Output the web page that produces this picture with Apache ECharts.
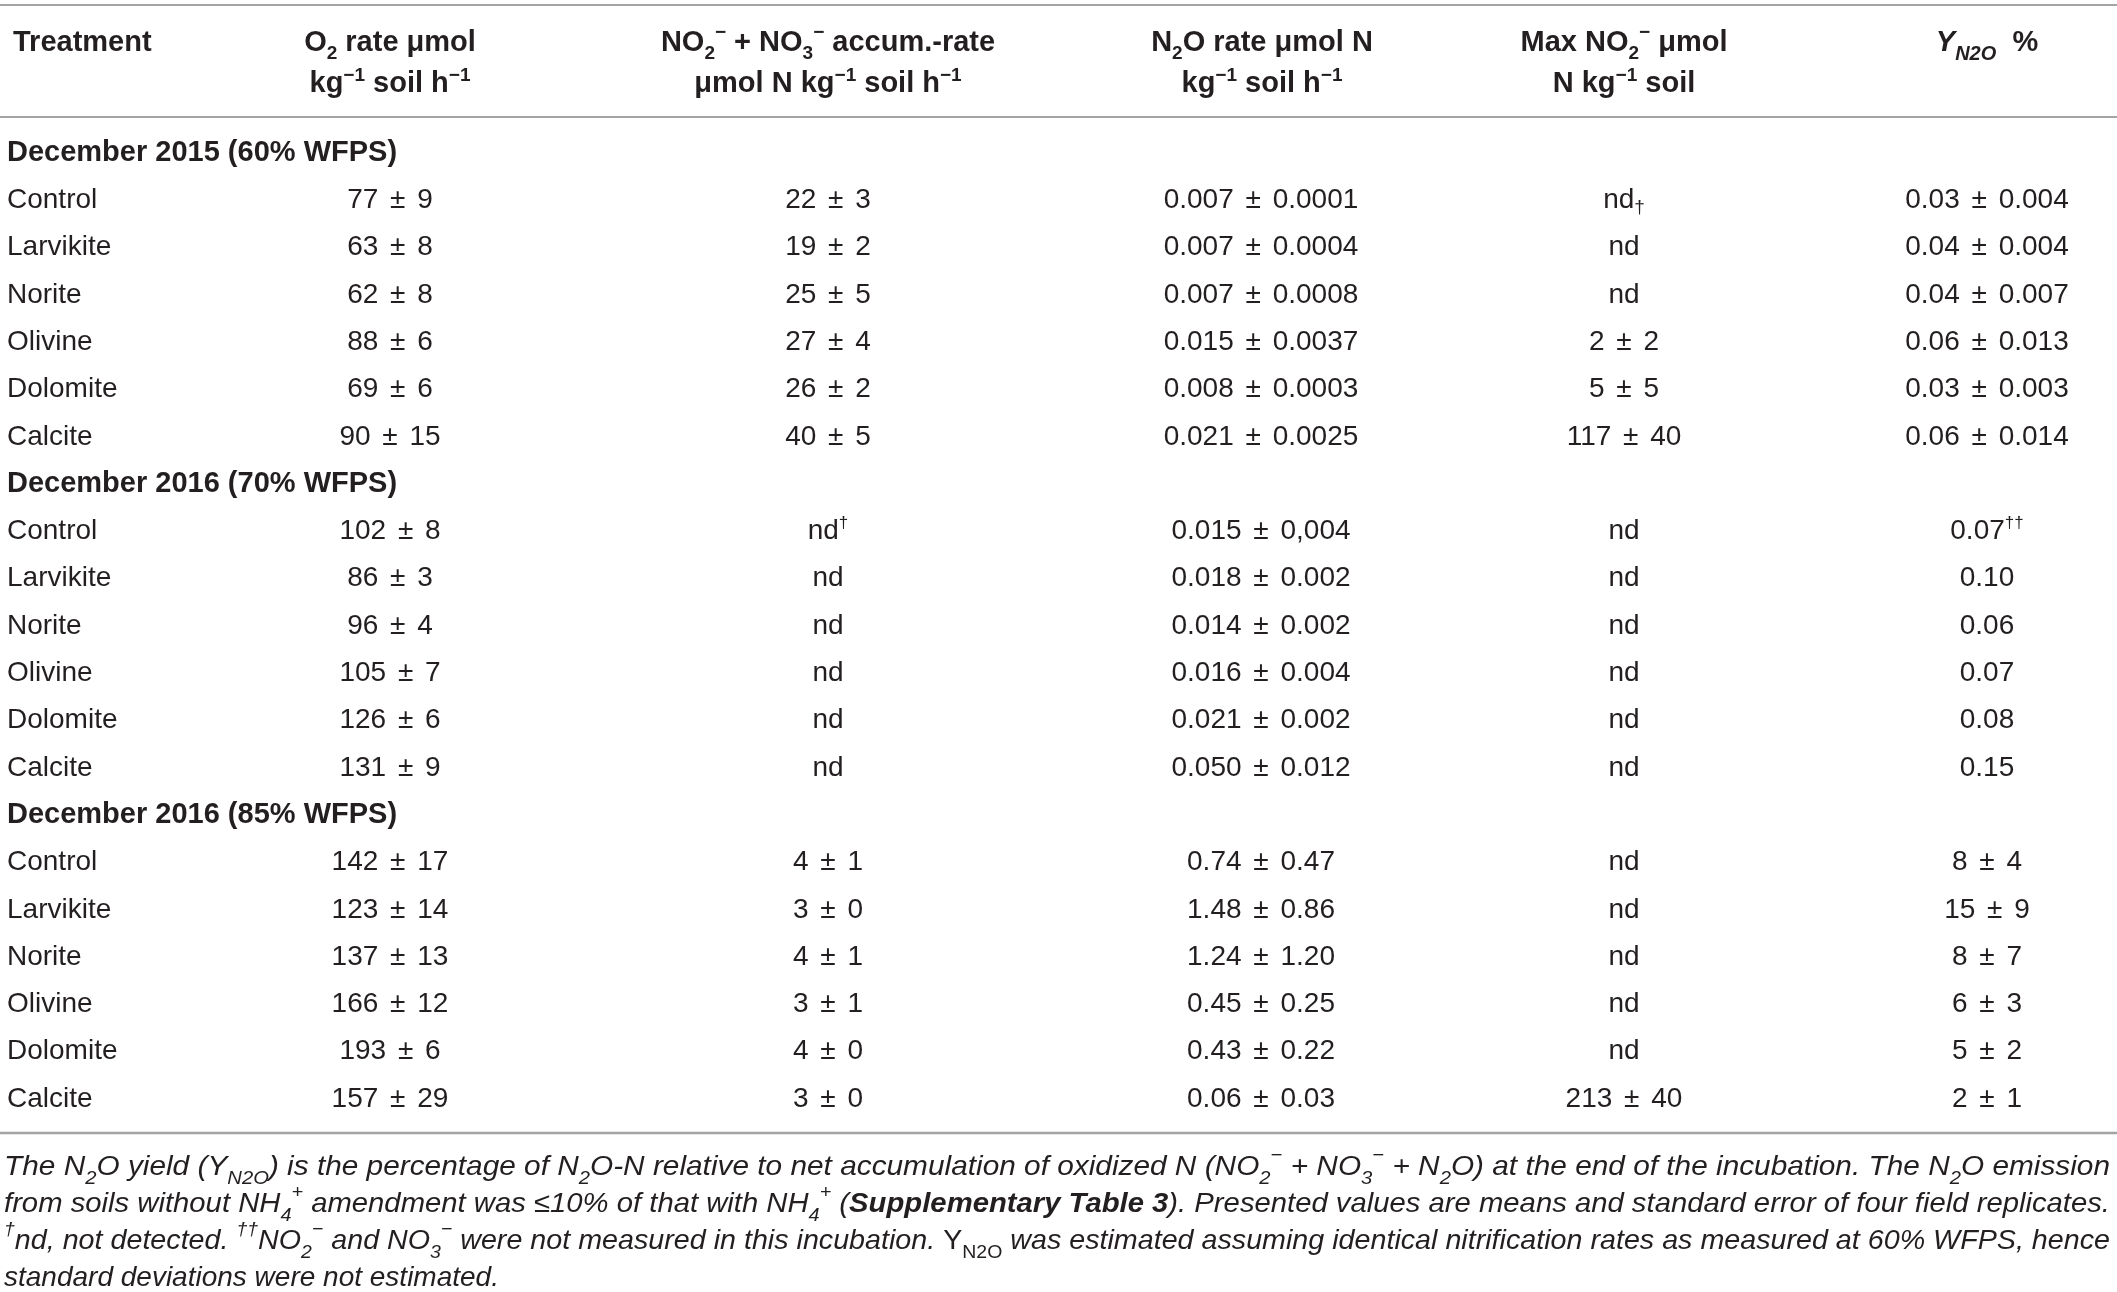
<!DOCTYPE html>
<html>
<head>
<meta charset="utf-8">
<script src="https://cdn.jsdelivr.net/npm/echarts@6/dist/echarts.min.js"></script>
<style>
  html, body { margin: 0; padding: 0; background: #fff; }
  #chartmain { width: 2117px; height: 1292px; }
</style>
</head>
<body>
<div id="chartmain"></div>
<script>
// table content
var groups = ['December 2015 (60% WFPS)', 'December 2016 (70% WFPS)', 'December 2016 (85% WFPS)'];
var treatments = ['Control', 'Larvikite', 'Norite', 'Olivine', 'Dolomite', 'Calcite'];

// one entry per treatment, groups one after the other
var o2Rate = [
  '77 ± 9', '63 ± 8', '62 ± 8', '88 ± 6', '69 ± 6', '90 ± 15',
  '102 ± 8', '86 ± 3', '96 ± 4', '105 ± 7', '126 ± 6', '131 ± 9',
  '142 ± 17', '123 ± 14', '137 ± 13', '166 ± 12', '193 ± 6', '157 ± 29'
];
var noxRate = [
  '22 ± 3', '19 ± 2', '25 ± 5', '27 ± 4', '26 ± 2', '40 ± 5',
  'nd{sup|†}', 'nd', 'nd', 'nd', 'nd', 'nd',
  '4 ± 1', '3 ± 0', '4 ± 1', '3 ± 1', '4 ± 0', '3 ± 0'
];
var n2oRate = [
  '0.007 ± 0.0001', '0.007 ± 0.0004', '0.007 ± 0.0008', '0.015 ± 0.0037', '0.008 ± 0.0003', '0.021 ± 0.0025',
  '0.015 ± 0,004', '0.018 ± 0.002', '0.014 ± 0.002', '0.016 ± 0.004', '0.021 ± 0.002', '0.050 ± 0.012',
  '0.74 ± 0.47', '1.48 ± 0.86', '1.24 ± 1.20', '0.45 ± 0.25', '0.43 ± 0.22', '0.06 ± 0.03'
];
var maxNo2 = [
  'nd{dag|†}', 'nd', 'nd', '2 ± 2', '5 ± 5', '117 ± 40',
  'nd', 'nd', 'nd', 'nd', 'nd', 'nd',
  'nd', 'nd', 'nd', 'nd', 'nd', '213 ± 40'
];
var yieldN2o = [
  '0.03 ± 0.004', '0.04 ± 0.004', '0.04 ± 0.007', '0.06 ± 0.013', '0.03 ± 0.003', '0.06 ± 0.014',
  '0.07{sup|††}', '0.10', '0.06', '0.07', '0.08', '0.15',
  '8 ± 4', '15 ± 9', '8 ± 7', '6 ± 3', '5 ± 2', '2 ± 1'
];

var headLine1 = [
  'Treatment',
  'O{sub|2} rate μmol',
  'NO{sub|2}{sup|−} + NO{sub|3}{sup|−} accum.-rate',
  'N{sub|2}O rate μmol N',
  'Max NO{sub|2}{sup|−} μmol',
  '{it|Y}{itsub|N2O}  %'
];
var headLine2 = [
  '',
  'kg{sup|−1} soil h{sup|−1}',
  'μmol N kg{sup|−1} soil h{sup|−1}',
  'kg{sup|−1} soil h{sup|−1}',
  'N kg{sup|−1} soil',
  ''
];

var footLines = [
  'The N{s|2}O yield (Y{s|N2O}) is the percentage of N{s|2}O-N relative to net accumulation of oxidized N (NO{s|2}{u|−} + NO{s|3}{u|−} + N{s|2}O) at the end of the incubation. The N{s|2}O emission',
  'from soils without NH{s|4}{u|+} amendment was ≤10% of that with NH{s|4}{u|+} ({b|Supplementary Table 3}). Presented values are means and standard error of four field replicates.',
  '{u|†}nd, not detected. {u|††}NO{s|2}{u|−} and NO{s|3}{u|−} were not measured in this incubation. {r|Y}{rs|N2O} was estimated assuming identical nitrification rates as measured at 60% WFPS, hence',
  'standard deviations were not estimated.'
];

// layout (pixels)
var W = 2117;
var colX = [7, 390, 828, 1261, 1624, 1987];
var headX = [13, 390, 828, 1262, 1624, 1987];
var footLeft = 4, footRight = 2110;
var font = 'Liberation Sans, Arial, sans-serif';
var ink = '#231f20';
var rule = '#a3a3a3';
var footSize = 28;

var columns = [o2Rate, noxRate, n2oRate, maxNo2, yieldN2o];

// build cells: [x, row, text, kind]
var cells = [];
groups.forEach(function (g, gi) {
  var base = gi * 7;
  cells.push([colX[0], base, g, 'group']);
  treatments.forEach(function (t, ti) {
    var k = gi * 6 + ti;
    cells.push([colX[0], base + 1 + ti, t, 'name']);
    columns.forEach(function (col, ci) {
      cells.push([colX[ci + 1], base + 1 + ti, col[k], 'value']);
    });
  });
});

var cellRich = {
  pm: { fontSize: 28, fontFamily: font, fill: ink, padding: [0, 4, 0, 4], lineHeight: 34 },
  sup: { fontSize: 17, fontFamily: font, fill: ink, verticalAlign: 'top', lineHeight: 34 },
  dag: { fontSize: 19, fontFamily: font, fill: ink, verticalAlign: 'bottom', lineHeight: 30 }
};

var headRich = {
  sub: { fontSize: 19, fontWeight: 'bold', fontFamily: font, fill: ink, verticalAlign: 'bottom', lineHeight: 40 },
  sup: { fontSize: 19, fontWeight: 'bold', fontFamily: font, fill: ink, verticalAlign: 'top', lineHeight: 36 },
  it: { fontSize: 29, fontWeight: 'bold', fontStyle: 'italic', fontFamily: font, fill: ink, lineHeight: 36 },
  itsub: { fontSize: 20, fontWeight: 'bold', fontStyle: 'italic', fontFamily: font, fill: ink, verticalAlign: 'bottom', lineHeight: 42 }
};

var footRich = {
  s: { fontSize: 19, fontStyle: 'italic', fontFamily: font, fill: ink, verticalAlign: 'bottom', lineHeight: 42 },
  u: { fontSize: 19, fontStyle: 'italic', fontFamily: font, fill: ink, verticalAlign: 'top', lineHeight: 34 },
  b: { fontSize: footSize, fontStyle: 'italic', fontWeight: 'bold', fontFamily: font, fill: ink, lineHeight: 34 },
  r: { fontSize: footSize, fontFamily: font, fill: ink, lineHeight: 34 },
  rs: { fontSize: 19, fontFamily: font, fill: ink, verticalAlign: 'bottom', lineHeight: 42 }
};

// measure a rich string so justified footnote lines can be stretched to full width
var measureCtx = document.createElement('canvas').getContext('2d');
function richWidth(str, baseStyle, rich) {
  var re = /\{(\w+)\|([^}]*)\}/g, w = 0, last = 0, m;
  function seg(text, st) {
    if (!text) return;
    measureCtx.font = (st.fontStyle || 'normal') + ' ' + (st.fontWeight || 'normal') + ' ' + st.fontSize + 'px ' + font;
    w += measureCtx.measureText(text).width;
  }
  while ((m = re.exec(str))) {
    seg(str.slice(last, m.index), baseStyle);
    seg(m[2], rich[m[1]]);
    last = re.lastIndex;
  }
  seg(str.slice(last), baseStyle);
  return w;
}

var graphics = [
  { type: 'line', shape: { x1: 0, y1: 5, x2: W, y2: 5 }, style: { stroke: rule, lineWidth: 2 } },
  { type: 'line', shape: { x1: 0, y1: 117, x2: W, y2: 117 }, style: { stroke: rule, lineWidth: 2 } },
  { type: 'line', shape: { x1: 0, y1: 1133, x2: W, y2: 1133 }, style: { stroke: rule, lineWidth: 2.5 } }
];
headLine1.forEach(function (h, i) {
  graphics.push({
    type: 'text', x: headX[i], y: 43,
    style: { text: h, rich: headRich, fontSize: 29, fontWeight: 'bold', fontFamily: font, fill: ink,
      align: i === 0 ? 'left' : 'center', verticalAlign: 'middle', lineHeight: 36 }
  });
});
headLine2.forEach(function (h, i) {
  if (!h) return;
  graphics.push({
    type: 'text', x: headX[i], y: 84,
    style: { text: h, rich: headRich, fontSize: 29, fontWeight: 'bold', fontFamily: font, fill: ink,
      align: 'center', verticalAlign: 'middle', lineHeight: 36 }
  });
});
footLines.forEach(function (t, i) {
  var sx = 1;
  if (i < footLines.length - 1) {
    sx = (footRight - footLeft) / richWidth(t, { fontStyle: 'italic', fontSize: footSize }, footRich);
  }
  graphics.push({
    type: 'text', x: footLeft, y: 1167 + i * 37, scaleX: sx,
    style: { text: t, rich: footRich, fontSize: footSize, fontStyle: 'italic', fontFamily: font, fill: ink,
      align: 'left', verticalAlign: 'middle', lineHeight: 34 }
  });
});

var option = {
  animation: false,
  backgroundColor: '#fff',
  grid: { left: 0, right: 0, top: 153, bottom: 1292 - 1099 },
  xAxis: { type: 'value', min: 0, max: W, show: false },
  yAxis: { type: 'value', min: 0, max: 20, inverse: true, show: false },
  graphic: graphics,
  series: [{
    type: 'custom',
    silent: true,
    data: cells.map(function (c) { return [c[0], c[1]]; }),
    renderItem: function (params, api) {
      var c = cells[params.dataIndex];
      var p = api.coord([api.value(0), api.value(1)]);
      var bold = c[3] === 'group';
      return {
        type: 'text',
        style: {
          text: c[2].replace(' ± ', ' {pm|±} '), x: p[0], y: p[1],
          rich: cellRich,
          fontSize: bold ? 29 : 28,
          fontWeight: bold ? 'bold' : 'normal',
          fontFamily: font, fill: ink,
          align: c[3] === 'value' ? 'center' : 'left',
          verticalAlign: 'middle',
          lineHeight: 34
        }
      };
    }
  }]
};

var myChart = echarts.init(document.getElementById('chartmain'));
myChart.setOption(option);
</script>
</body>
</html>
